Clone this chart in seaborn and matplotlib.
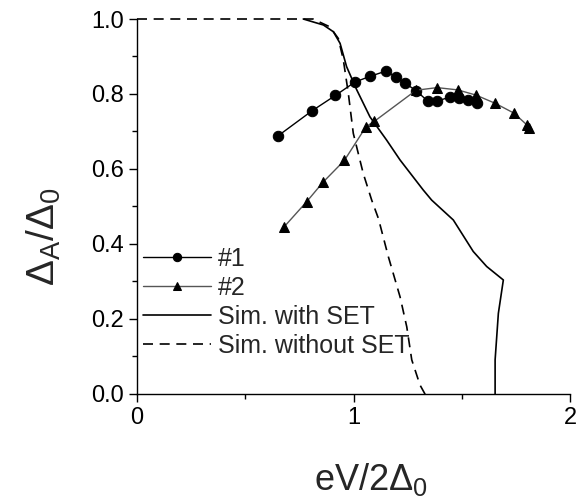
import numpy as np
import pandas as pd
import matplotlib
matplotlib.use("Agg")
import matplotlib.pyplot as plt
import seaborn as sns
from matplotlib.ticker import MultipleLocator, FormatStrFormatter

# sample #1 (circles)
x1 = [0.653, 0.808, 0.916, 1.007, 1.076, 1.149, 1.195, 1.240, 1.289,
      1.343, 1.386, 1.446, 1.487, 1.530, 1.572]
y1 = [0.689, 0.755, 0.796, 0.832, 0.847, 0.861, 0.846, 0.828, 0.809,
      0.781, 0.781, 0.792, 0.789, 0.785, 0.777]

# sample #2 (triangles)
x2 = [0.680, 0.784, 0.858, 0.958, 1.058, 1.096, 1.289, 1.386, 1.481,
      1.566, 1.655, 1.741, 1.800, 1.810]
y2 = [0.446, 0.513, 0.564, 0.623, 0.713, 0.727, 0.810, 0.817, 0.811,
      0.797, 0.775, 0.749, 0.718, 0.708]

# simulation with SET
xs = [0.768, 0.861, 0.907, 0.938, 0.968, 1.015, 1.076, 1.153, 1.215,
      1.322, 1.361, 1.461, 1.553, 1.615, 1.692, 1.669, 1.654, 1.654]
ys = [1.0, 0.984, 0.966, 0.935, 0.873, 0.811, 0.739, 0.677, 0.624,
      0.544, 0.517, 0.464, 0.380, 0.340, 0.304, 0.215, 0.091, 0.0]

# simulation without SET
xn = [0.0, 0.813, 0.891, 0.930, 0.953, 0.976, 0.999, 1.045, 1.084, 1.115,
      1.161, 1.215, 1.246, 1.269, 1.307, 1.330, 1.360]
yn = [1.0, 1.0, 0.979, 0.948, 0.891, 0.802, 0.695, 0.588, 0.517, 0.468,
      0.366, 0.259, 0.179, 0.091, 0.024, 0.0, 0.0]

sns.set_style("ticks")
plt.rcParams["font.family"] = ["Liberation Sans", "DejaVu Sans"]
plt.rcParams["mathtext.fontset"] = "custom"
plt.rcParams["mathtext.rm"] = "Liberation Sans"
plt.rcParams["mathtext.it"] = "Liberation Sans"

fig = plt.figure(figsize=(5.79, 5.04), dpi=100)
ax = fig.add_axes([0.2366, 0.2183, 0.7479, 0.7440])

d1 = pd.DataFrame({"x": x1, "y": y1})
d2 = pd.DataFrame({"x": x2, "y": y2})
ds = pd.DataFrame({"x": xs, "y": ys})
dn = pd.DataFrame({"x": xn, "y": yn})

sns.lineplot(data=d1, x="x", y="y", sort=False, estimator=None, ax=ax,
             color="black", lw=1.0, marker="o", markersize=7.5,
             markeredgecolor="black", label="#1")
sns.lineplot(data=d2, x="x", y="y", sort=False, estimator=None, ax=ax,
             color="#555555", lw=1.0, marker="^", markersize=7.5,
             markerfacecolor="black", markeredgecolor="black", label="#2")
sns.lineplot(data=ds, x="x", y="y", sort=False, estimator=None, ax=ax,
             color="black", lw=1.2, label="Sim. with SET")
sns.lineplot(data=dn, x="x", y="y", sort=False, estimator=None, ax=ax,
             color="black", lw=1.2, linestyle=(0, (6, 4)),
             label="Sim. without SET")
for ln in ax.lines:
    ln.set_clip_on(False)

ax.set_xlim(0, 2)
ax.set_ylim(0, 1.0)
ax.xaxis.set_major_locator(MultipleLocator(1))
ax.xaxis.set_minor_locator(MultipleLocator(0.5))
ax.yaxis.set_major_locator(MultipleLocator(0.2))
ax.yaxis.set_minor_locator(MultipleLocator(0.1))
ax.xaxis.set_major_formatter(FormatStrFormatter("%d"))
ax.yaxis.set_major_formatter(FormatStrFormatter("%.1f"))
ax.tick_params(which="major", length=6, width=1.0, labelsize=17, direction="out",
               color="black", labelcolor="black")
ax.tick_params(which="minor", length=3.5, width=1.0, direction="out", color="black")
for s in ["left", "bottom"]:
    ax.spines[s].set_linewidth(1.0)
    ax.spines[s].set_color("black")
sns.despine(ax=ax)

ax.set_xlabel(r"eV/2$\Delta_0$", fontsize=26)
ax.set_ylabel(r"$\Delta_A/\Delta_0$", fontsize=28)
ax.xaxis.set_label_coords(0.54, -0.18)
ax.yaxis.set_label_coords(-0.17, 0.42)

ax.legend(loc="center left", bbox_to_anchor=(0.014, 0.244), frameon=False,
          fontsize=18, handlelength=2.7, handletextpad=0.3, borderpad=0,
          borderaxespad=0, labelspacing=0.2, numpoints=1, markerscale=0.8)

fig.savefig("out.png", dpi=100)
